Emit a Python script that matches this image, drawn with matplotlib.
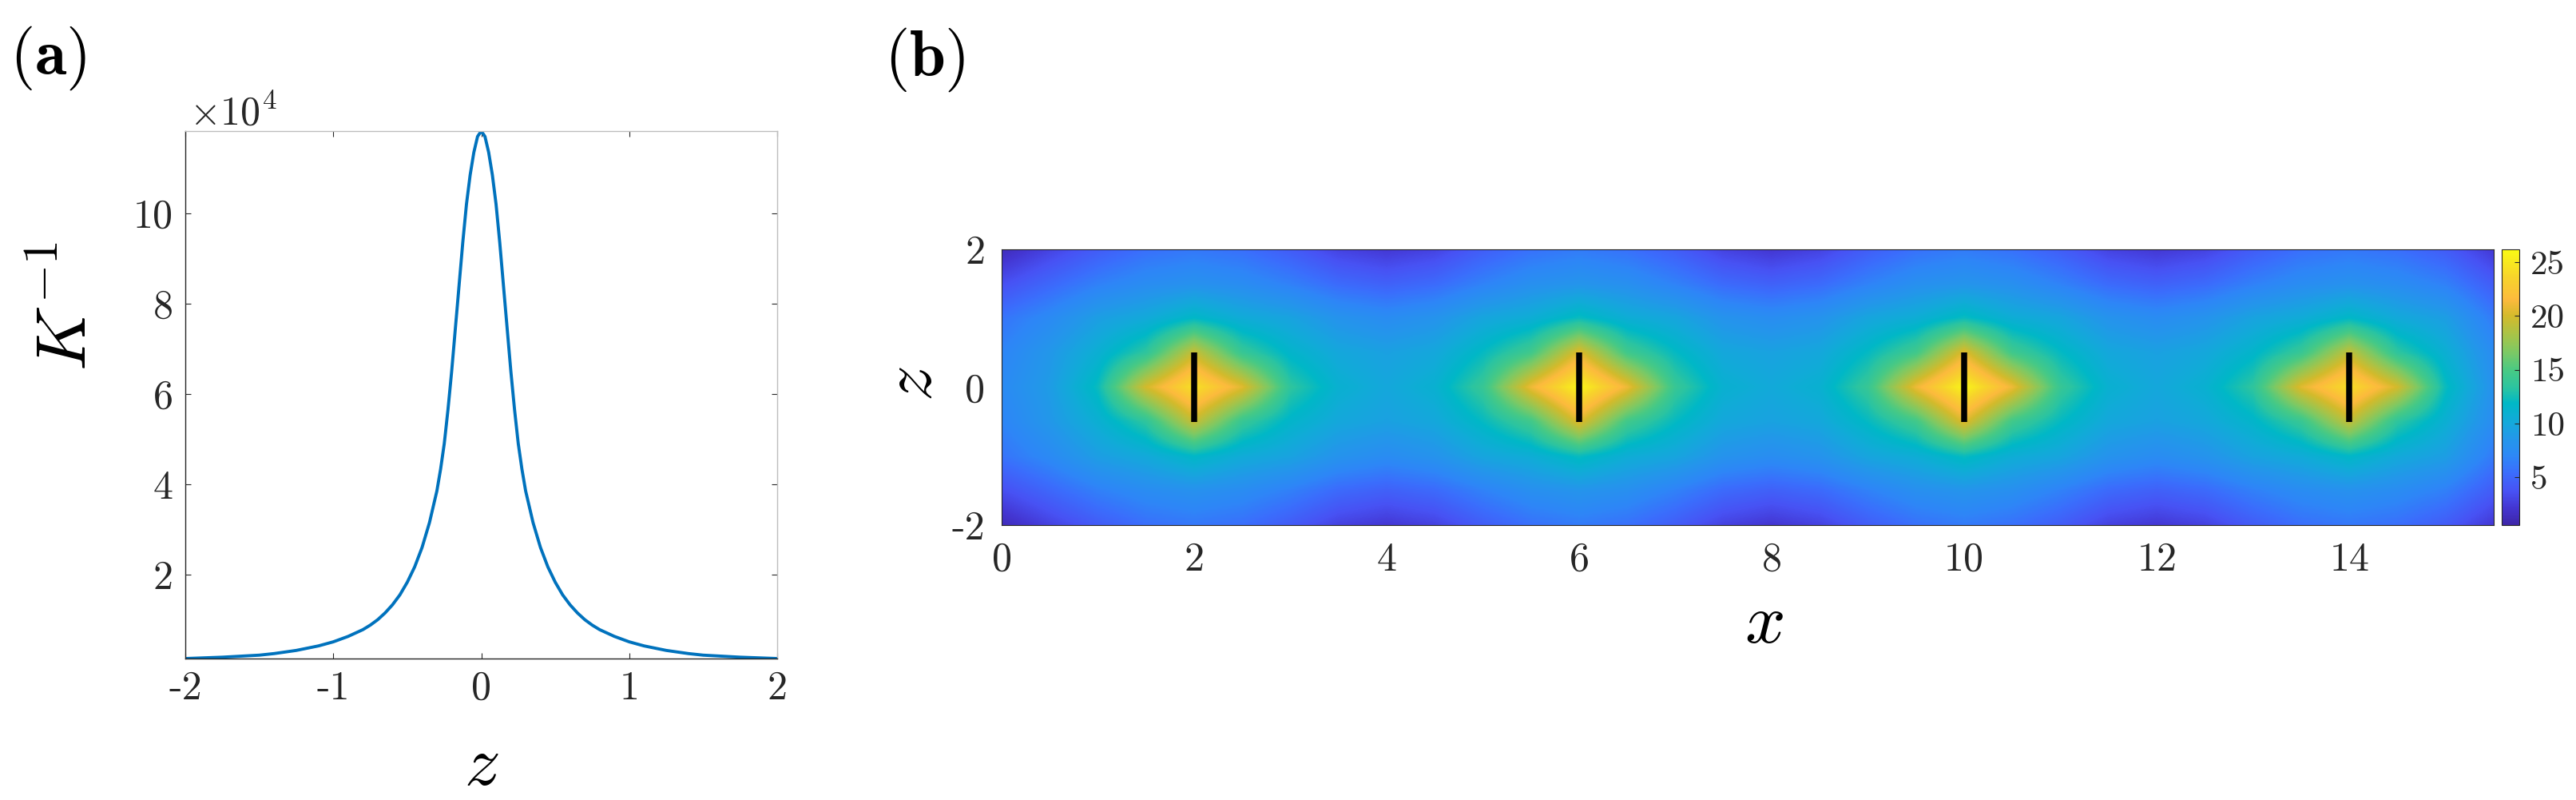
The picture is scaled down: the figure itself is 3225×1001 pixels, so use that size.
import numpy as np
import matplotlib

matplotlib.use("Agg")
import matplotlib.pyplot as plt  # noqa: E402
from matplotlib.colors import LinearSegmentedColormap  # noqa: E402

# ---------------- data ----------------
# panel (a): K^-1 against z, read for z >= 0 (the curve is symmetric)
Z_HALF = [0.0, 0.025, 0.05, 0.075, 0.1, 0.125, 0.15, 0.175, 0.2, 0.225,
          0.25, 0.275, 0.3, 0.35, 0.4, 0.45, 0.5, 0.55, 0.6, 0.65, 0.7,
          0.75, 0.8, 0.9, 1.0, 1.1, 1.25, 1.4, 1.5, 1.75, 2.0]
K_INV_HALF = [118200, 117000, 113500, 108500, 102000, 93500, 84000, 74500,
              65000, 56500, 49000, 43300, 38500, 31500, 26000, 21700, 18300,
              15500, 13300, 11500, 10000, 8800, 7800, 6300, 5100, 4200,
              3200, 2500, 2150, 1700, 1400]

# panel (b): field on a coarse grid, x = 0 .. 15.5 step 0.5, rows for |z|
X_GRID = [0.0, 0.5, 1.0, 1.5, 2.0, 2.5, 3.0, 3.5, 4.0, 4.5, 5.0, 5.5, 6.0,
          6.5, 7.0, 7.5, 8.0, 8.5, 9.0, 9.5, 10.0, 10.5, 11.0, 11.5, 12.0,
          12.5, 13.0, 13.5, 14.0, 14.5, 15.0, 15.5]
Z_GRID = [-2.0, -1.5, -1.0, -0.5, 0.0, 0.5, 1.0, 1.5, 2.0]
FIELD_Z00 = [7.3, 9.0, 12.2, 20.0, 24.5, 20.5, 13.5, 11.0, 10.0, 11.0, 14.0,
             21.0, 25.8, 21.0, 14.0, 11.0, 10.2, 11.0, 14.0, 21.0, 25.8,
             21.0, 14.0, 11.0, 10.0, 11.0, 13.5, 20.5, 24.3, 20.0, 12.2, 8.0]
FIELD_Z05 = [6.8, 8.6, 10.8, 13.5, 19.5, 14.0, 11.5, 10.0, 9.4, 10.0, 12.0,
             14.5, 20.5, 14.5, 12.0, 10.0, 9.5, 10.0, 12.0, 14.5, 20.5,
             14.5, 12.0, 10.0, 9.4, 10.0, 11.5, 14.0, 19.3, 13.5, 10.8, 7.5]
FIELD_Z10 = [5.8, 7.3, 9.2, 10.2, 11.8, 10.4, 9.6, 8.2, 7.5, 8.2, 9.8,
             10.6, 12.2, 10.6, 9.8, 8.2, 7.6, 8.2, 9.8, 10.6, 12.2,
             10.6, 9.8, 8.2, 7.5, 8.2, 9.6, 10.4, 11.8, 10.2, 9.2, 6.2]
FIELD_Z15 = [3.5, 5.0, 6.5, 7.5, 8.0, 7.5, 6.5, 5.2, 4.6, 5.2, 6.6,
             7.8, 8.3, 7.8, 6.6, 5.2, 4.6, 5.2, 6.6, 7.8, 8.3,
             7.8, 6.6, 5.2, 4.6, 5.2, 6.5, 7.5, 8.0, 7.5, 6.5, 4.3]
FIELD_Z20 = [1.2, 2.8, 4.3, 5.5, 6.0, 5.5, 4.3, 2.8, 2.2, 2.8, 4.4,
             5.6, 6.2, 5.6, 4.4, 2.8, 2.1, 2.8, 4.4, 5.6, 6.2,
             5.6, 4.4, 2.8, 2.2, 2.8, 4.3, 5.5, 6.0, 5.5, 4.3, 2.2]
SOURCE_X = [2, 6, 10, 14]
SOURCE_Z = [-0.5, 0.5]
CLIM = (0.54, 26.2)

# parula-like colormap (anchors picked off the colour bar)
PARULA = [
    (0.000, (0.2422, 0.1504, 0.6603)),
    (0.060, (0.2650, 0.2100, 0.8200)),
    (0.122, (0.2810, 0.3228, 0.9579)),
    (0.190, (0.2300, 0.4300, 0.9900)),
    (0.247, (0.1786, 0.5289, 0.9682)),
    (0.310, (0.1400, 0.5900, 0.9200)),
    (0.370, (0.0800, 0.6600, 0.8600)),
    (0.440, (0.0000, 0.7200, 0.7800)),
    (0.498, (0.1700, 0.7700, 0.6300)),
    (0.560, (0.2800, 0.7900, 0.5200)),
    (0.624, (0.4800, 0.7900, 0.4000)),
    (0.680, (0.6300, 0.7700, 0.3000)),
    (0.760, (0.8300, 0.7300, 0.1700)),
    (0.820, (0.9900, 0.7300, 0.2400)),
    (0.900, (0.9700, 0.8300, 0.1700)),
    (1.000, (0.9769, 0.9839, 0.0805)),
]
parula = LinearSegmentedColormap.from_list("parula", PARULA, N=256)

# ---------------- style ----------------
plt.rcParams.update({
    "font.family": "serif",
    "font.serif": ["cmr10"],
    "mathtext.fontset": "cm",
    "axes.unicode_minus": False,
    "axes.formatter.use_mathtext": True,
})
DARK = "#262626"
TICK_FS = 36
LABEL_FS = 64

fig = plt.figure(figsize=(32.25, 10.01), dpi=100)

# ---------------- panel (a) ----------------
z_a = np.concatenate([-np.array(Z_HALF[::-1]), np.array(Z_HALF[1:])])
k_a = np.concatenate([np.array(K_INV_HALF[::-1]), np.array(K_INV_HALF[1:])]) / 1e4

ax1 = fig.add_axes([0.07194, 0.17682, 0.22977, 0.65934])
ax1.plot(z_a, k_a, color="#0072BD", lw=2.8)
ax1.set_xlim(-2, 2)
ax1.set_ylim(k_a.min(), k_a.max())
ax1.set_xticks([-2, -1, 0, 1, 2])
ax1.set_xticklabels(["-2", "-1", "0", "1", "2"])
ax1.set_yticks([2, 4, 6, 8, 10])
ax1.set_yticklabels(["2", "4", "6", "8", "10"])
ax1.tick_params(direction="in", length=5, width=0.8, colors=DARK,
                labelsize=TICK_FS, pad=11, top=True, right=True)
for side in ("left", "bottom"):
    ax1.spines[side].set_color(DARK)
    ax1.spines[side].set_linewidth(1.0)
for side in ("top", "right"):
    ax1.spines[side].set_color("#bdbdbd")
    ax1.spines[side].set_linewidth(1.0)

ax1.set_xlabel("$z$", fontsize=LABEL_FS)
ax1.xaxis.label.set_va("center")
ax1.xaxis.set_label_coords(0.5, -0.2045)
ax1.set_ylabel("$K^{-1}$", fontsize=LABEL_FS)
ax1.yaxis.label.set_va("center")
ax1.yaxis.set_label_coords(-0.198, 0.668)
# MATLAB-style exponent above the y axis
ax1.text(0.0067, (824 - 155) / 660, r"$\times 10^{4}$",
         transform=ax1.transAxes, fontsize=TICK_FS, color=DARK,
         ha="left", va="baseline")

# ---------------- panel (b) ----------------
field = np.array([FIELD_Z20, FIELD_Z15, FIELD_Z10, FIELD_Z05, FIELD_Z00,
                  FIELD_Z05, FIELD_Z10, FIELD_Z15, FIELD_Z20])
dx = X_GRID[1] - X_GRID[0]
dz = Z_GRID[1] - Z_GRID[0]

ax2 = fig.add_axes([0.38884, 0.34366, 0.57922, 0.34466])
im = ax2.imshow(field, origin="lower", aspect="auto", cmap=parula,
                vmin=CLIM[0], vmax=CLIM[1], interpolation="bilinear",
                extent=[X_GRID[0] - dx / 2, X_GRID[-1] + dx / 2,
                        Z_GRID[0] - dz / 2, Z_GRID[-1] + dz / 2])
ax2.vlines(SOURCE_X, SOURCE_Z[0], SOURCE_Z[1], colors="k", lw=5.4)
ax2.set_xlim(0, 15.5)
ax2.set_ylim(-2, 2)
ax2.set_xticks([0, 2, 4, 6, 8, 10, 12, 14])
ax2.set_xticklabels(["0", "2", "4", "6", "8", "10", "12", "14"])
ax2.set_yticks([-2, 0, 2])
ax2.set_yticklabels(["-2", "0", "2"])
ax2.tick_params(direction="in", length=0, colors=DARK,
                labelsize=TICK_FS, pad=15)
for side in ax2.spines:
    ax2.spines[side].set_color(DARK)
    ax2.spines[side].set_linewidth(0.8)

ax2.set_xlabel("$x$", fontsize=LABEL_FS)
ax2.xaxis.label.set_va("center")
ax2.xaxis.set_label_coords(0.511, -0.362)
ax2.set_ylabel("$z$", fontsize=LABEL_FS)
ax2.yaxis.label.set_va("center")
ax2.yaxis.set_label_coords(-0.0594, 0.513)

cax = fig.add_axes([0.97116, 0.34366, 0.00682, 0.34466])
cbar = fig.colorbar(im, cax=cax, ticks=[5, 10, 15, 20, 25])
cbar.ax.set_yticklabels(["5", "10", "15", "20", "25"])
cbar.ax.tick_params(direction="in", length=4, width=0.8, colors=DARK,
                    labelsize=31, pad=10)
cbar.outline.set_linewidth(0.8)
cbar.outline.set_edgecolor(DARK)

# ---------------- panel letters ----------------
fig.text(12 / 3225, 1 - 30 / 1001, r"$\mathbf{(a)}$", fontsize=58,
         ha="left", va="top")
fig.text(1107 / 3225, 1 - 32 / 1001, r"$\mathbf{(b)}$", fontsize=58,
         ha="left", va="top")

fig.savefig("out.png", dpi=100)
plt.close(fig)
